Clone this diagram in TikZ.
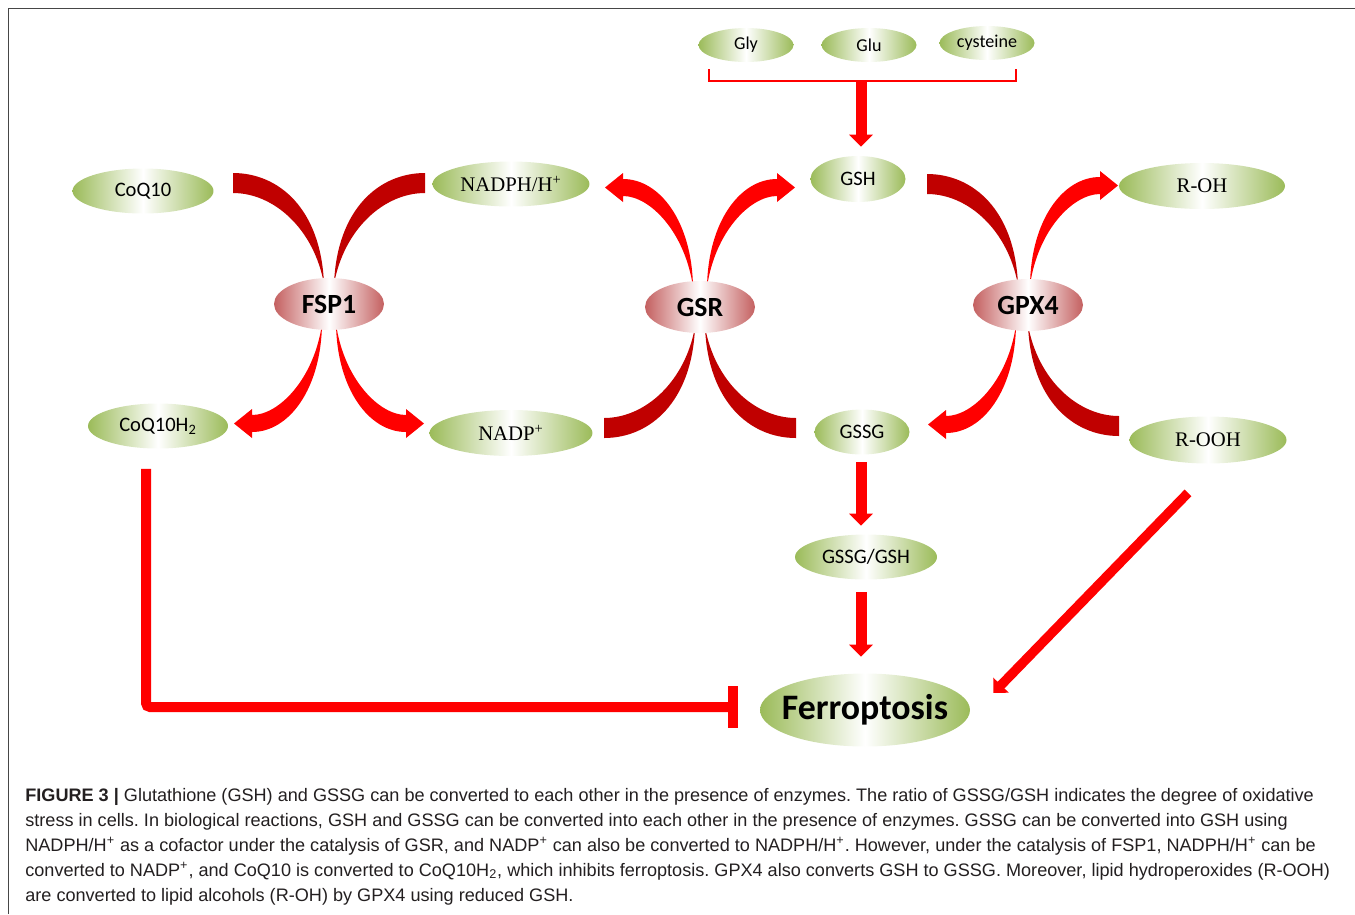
\documentclass[tikz,border=0pt]{standalone}
\usepackage{fontspec}
\setmainfont{Liberation Sans}
\newfontfamily\calfont{Carlito}
\newfontfamily\serfont{Liberation Serif}
\newfontfamily\capfont{Liberation Sans}
\usetikzlibrary{arrows.meta,shapes.geometric,backgrounds,calc}
\definecolor{leafgreen}{RGB}{155,187,89}
\definecolor{enzrose}{RGB}{196,96,96}
\definecolor{fluxdark}{RGB}{192,0,0}
\definecolor{fluxbright}{RGB}{255,0,0}
\definecolor{framegray}{RGB}{70,70,70}
\definecolor{captext}{RGB}{35,31,32}
\tikzset{
  metabox/.style={ellipse, inner sep=0pt, left color=leafgreen, right color=leafgreen, middle color=white, font=\calfont\fontsize{11.7}{12}\selectfont},
  metasmall/.style={metabox, minimum width=1.9cm, minimum height=0.68cm, font=\calfont\fontsize{10.3}{11}\selectfont},
  metaserif/.style={metabox, font=\serfont\fontsize{11.8}{12}\selectfont},
  enzbox/.style={ellipse, inner sep=0pt, minimum width=2.2cm, minimum height=1.04cm, left color=enzrose, right color=enzrose, middle color=white, font=\calfont\bfseries\fontsize{15.8}{16}\selectfont},
  fatebox/.style={metabox, inner xsep=-6pt, minimum width=4.2cm, minimum height=1.46cm, font=\calfont\bfseries\fontsize{20.4}{21}\selectfont},
  captionbox/.style={align=left, inner sep=0pt, text=captext, font=\capfont\fontsize{10.3}{14.17}\selectfont},
  fatarrow/.style={draw=fluxbright, line width=0.22cm, -{Triangle[width=0.46cm, length=0.24cm]}},
  slimarrow/.style={draw=fluxbright, line width=0.19cm, -{Triangle[width=0.42cm, length=0.22cm]}},
  inhibitline/.style={draw=fluxbright, line width=0.2cm, rounded corners=0.08cm, -{Bar[width=0.84cm, line width=0.2cm]}},
  bracketline/.style={draw=fluxbright, line width=0.03cm},
  framerule/.style={draw=framegray, line width=0.035cm},
  % tapered flux arrows, drawn for the upper left quadrant of an enzyme
  inflow/.pic={
    \fill[fluxdark] (-96,-131) .. controls (-50,-131) and (-8,-95) .. (-5,-20)
      .. controls (-15,-75) and (-55,-111) .. (-96,-111) -- cycle;
  },
  outflow/.pic={
    \fill[fluxbright] (-7,-20) .. controls (-8,-85) and (-40,-128) .. (-77,-128)
      -- (-77,-134) -- (-95,-119.5) -- (-77,-105) -- (-77,-111)
      .. controls (-50,-111) and (-15,-75) .. (-7,-20) -- cycle;
  }
}
\begin{document}
\frenchspacing
\begin{tikzpicture}[x=0.02cm, y=-0.02cm]
\useasboundingbox (0,0) rectangle (1355,914);
\draw[framerule] (8.5,914) -- (8.5,8.5) -- (1355,8.5);

% amino acids
\node[metasmall] (gly) at (746,45) {Gly};
\node[metasmall] (glu) at (869,45) {Glu};
\node[metasmall] (cys) at (987,43) {cysteine};

% metabolites
\node[metabox, minimum width=1.9cm, minimum height=0.92cm] (gsh) at (858,179) {GSH};
\node[metabox, minimum width=2.82cm, minimum height=0.9cm] (coq) at (143,191) {CoQ10};
\node[metaserif, minimum width=3.14cm, minimum height=0.9cm] (nadph) at (511,184) {NADPH/H\textsuperscript{+}};
\node[metaserif, minimum width=3.32cm, minimum height=0.92cm] (roh) at (1202,186) {R-OH};
\node[metabox, minimum width=2.8cm, minimum height=0.9cm] (cqh) at (158,426) {CoQ10H\textsubscript{2}};
\node[metaserif, minimum width=3.26cm, minimum height=0.92cm] (nadp) at (511,433) {NADP\textsuperscript{+}};
\node[metabox, minimum width=1.9cm, minimum height=0.9cm] (gssg) at (862,432) {GSSG};
\node[metaserif, minimum width=3.14cm, minimum height=0.94cm] (rooh) at (1208,440) {R-OOH};
\node[metabox, minimum width=2.84cm, minimum height=0.9cm] (ratio) at (866,557) {GSSG/GSH};
\node[fatebox] (ferro) at (865,710) {Ferroptosis};

% enzymes
\node[enzbox] (fsp) at (329,304) {FSP1};
\node[enzbox] (gsr) at (700,307) {GSR};
\node[enzbox] (gpx) at (1028,305) {GPX4};

\begin{scope}[on background layer]
\pic at (fsp) {inflow};
\pic[xscale=-1] at (fsp) {inflow};
\pic[yscale=-1] at (fsp) {outflow};
\pic[xscale=-1, yscale=-1] at (fsp) {outflow};
\pic at (gsr) {outflow};
\pic[xscale=-1] at (gsr) {outflow};
\pic[yscale=-1] at (gsr) {inflow};
\pic[xscale=-1, yscale=-1] at (gsr) {inflow};
\pic at ([xshift=-0.1cm]gpx.center) {inflow};
\pic[xscale=-1] at ([xshift=-0.1cm]gpx.center) {outflow};
\pic[yscale=-1] at ([xshift=-0.1cm]gpx.center) {outflow};
\pic[xscale=-1, yscale=-1] at ([xshift=-0.1cm]gpx.center) {inflow};
\end{scope}

% synthesis bracket
\coordinate (brk) at (861,81);
\draw[bracketline] (709,69) -- (709,81) -- (1016,81) -- (1016,69);
\draw[fatarrow, shorten >=0.18cm] (brk) -- (brk |- gsh.north);
\draw[fatarrow, shorten <=0.15cm, shorten >=0.17cm] (gssg.south -| brk) -- (ratio.north -| brk);
\draw[fatarrow, shorten <=0.25cm, shorten >=0.33cm] (ratio.south -| brk) -- (ferro.north -| brk);
\draw[slimarrow] ($(rooh.south)+(-20,29)$) -- ($(ferro.east)+(23,-17)$);
\draw[inhibitline] ($(cqh.south)+(-12,20)$) |- ($(ferro.west)+(-22,-3)$);

% caption
\node[captionbox, anchor=north west] (cap) at (25,788) {\textbf{FIGURE 3 |} Glutathione (GSH) and GSSG can be converted to each other in the presence of enzymes. The ratio of GSSG/GSH indicates the degree of oxidative\\
stress in cells. In biological reactions, GSH and GSSG can be converted into each other in the presence of enzymes. GSSG can be converted into GSH using\\
NADPH/H\textsuperscript{+} as a cofactor under the catalysis of GSR, and NADP\textsuperscript{+} can also be converted to NADPH/H\textsuperscript{+}. However, under the catalysis of FSP1, NADPH/H\textsuperscript{+} can be\\
converted to NADP\textsuperscript{+}, and CoQ10 is converted to CoQ10H\textsubscript{2}, which inhibits ferroptosis. GPX4 also converts GSH to GSSG. Moreover, lipid hydroperoxides (R-OOH)\\
are converted to lipid alcohols (R-OH) by GPX4 using reduced GSH.};
\end{tikzpicture}
\end{document}
